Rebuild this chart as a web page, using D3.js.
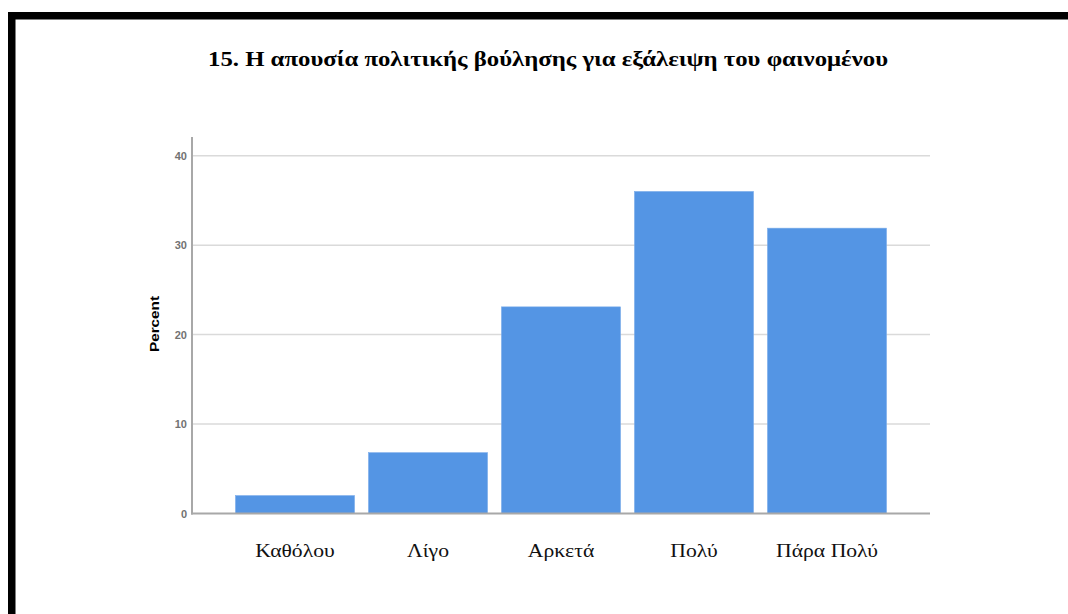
<!DOCTYPE html>
<html><head><meta charset="utf-8">
<script src="https://cdn.jsdelivr.net/npm/d3@7"></script>
<style>html,body{margin:0;padding:0;background:#fff;}svg{display:block;}</style>
</head><body>
<script>
const title = "15. Η απουσία πολιτικής βούλησης για εξάλειψη του φαινομένου";
const categories = ["Καθόλου", "Λίγο", "Αρκετά", "Πολύ", "Πάρα Πολύ"];
const percents = [2.0, 6.8, 23.1, 36.0, 31.9];
const yTicks = [0, 10, 20, 30, 40];
const yLabel = "Percent";

const W = 1068, H = 614;
const svg = d3.select("body").append("svg").attr("width", W).attr("height", H);
svg.append("rect").attr("width", W).attr("height", H).attr("fill", "#fff");

// frame (black border top & left)
svg.append("rect").attr("x", 8).attr("y", 12).attr("width", W - 8).attr("height", 7.5).attr("fill", "#000");
svg.append("rect").attr("x", 8).attr("y", 12).attr("width", 7.5).attr("height", H - 12).attr("fill", "#000");

svg.append("text").attr("x", 208).attr("y", 66)
  .attr("font-family", "Liberation Serif, Times New Roman, serif").attr("font-weight", "bold")
  .attr("font-size", 22).attr("fill", "#000")
  .attr("textLength", 680).attr("lengthAdjust", "spacingAndGlyphs").text(title);

const x0 = 192, x1 = 930, yTop = 137, y0 = 513.5;
const y = d3.scaleLinear().domain([0, 40]).range([y0, 155.7]);
const x = d3.scaleBand().domain(categories).range([x0, x1]).paddingInner(0.105).paddingOuter(0.327);

// gridlines
svg.append("g").selectAll("line").data(yTicks.filter(d => d > 0)).join("line")
  .attr("x1", x0).attr("x2", x1).attr("y1", d => y(d)).attr("y2", d => y(d))
  .attr("stroke", "#dadada").attr("stroke-width", 1.5);

// y axis
const yAxis = d3.axisLeft(y).tickValues(yTicks).tickSize(0).tickPadding(5);
const gy = svg.append("g").attr("transform", `translate(${x0},0)`).call(yAxis);
gy.select(".domain").remove();
gy.selectAll("text").attr("font-family", "Liberation Sans, Arial, sans-serif").attr("font-size", 11)
  .attr("font-weight", "bold").attr("fill", "#727272");
svg.append("line").attr("x1", x0).attr("x2", x0).attr("y1", yTop).attr("y2", y0 + 1)
  .attr("stroke", "#a8a8a8").attr("stroke-width", 2);

// bars
svg.append("g").selectAll("rect").data(categories).join("rect")
  .attr("x", d => x(d)).attr("width", x.bandwidth())
  .attr("y", (d, i) => y(percents[i])).attr("height", (d, i) => y0 - y(percents[i]))
  .attr("fill", "#5495e4").attr("stroke", "#79abea").attr("stroke-width", 0.6);

// x axis
const xAxis = d3.axisBottom(x).tickSize(0).tickPadding(30);
const gx = svg.append("g").attr("transform", `translate(0,${y0})`).call(xAxis);
gx.select(".domain").remove();
gx.selectAll("text").attr("font-family", "Liberation Serif, Times New Roman, serif")
  .attr("font-size", 19).attr("fill", "#111")
  .each(function () {
    const len = this.getComputedTextLength();
    d3.select(this).attr("textLength", len * 1.14).attr("lengthAdjust", "spacingAndGlyphs");
  });
svg.append("line").attr("x1", x0 - 1).attr("x2", x1).attr("y1", y0).attr("y2", y0)
  .attr("stroke", "#a8a8a8").attr("stroke-width", 2);

// y label
svg.append("text").attr("transform", `translate(159,324) rotate(-90)`).attr("text-anchor", "middle")
  .attr("font-family", "Liberation Sans, Arial, sans-serif").attr("font-weight", "bold")
  .attr("font-size", 13).attr("fill", "#000")
  .attr("textLength", 56).attr("lengthAdjust", "spacingAndGlyphs").text(yLabel);
</script>
</body></html>
